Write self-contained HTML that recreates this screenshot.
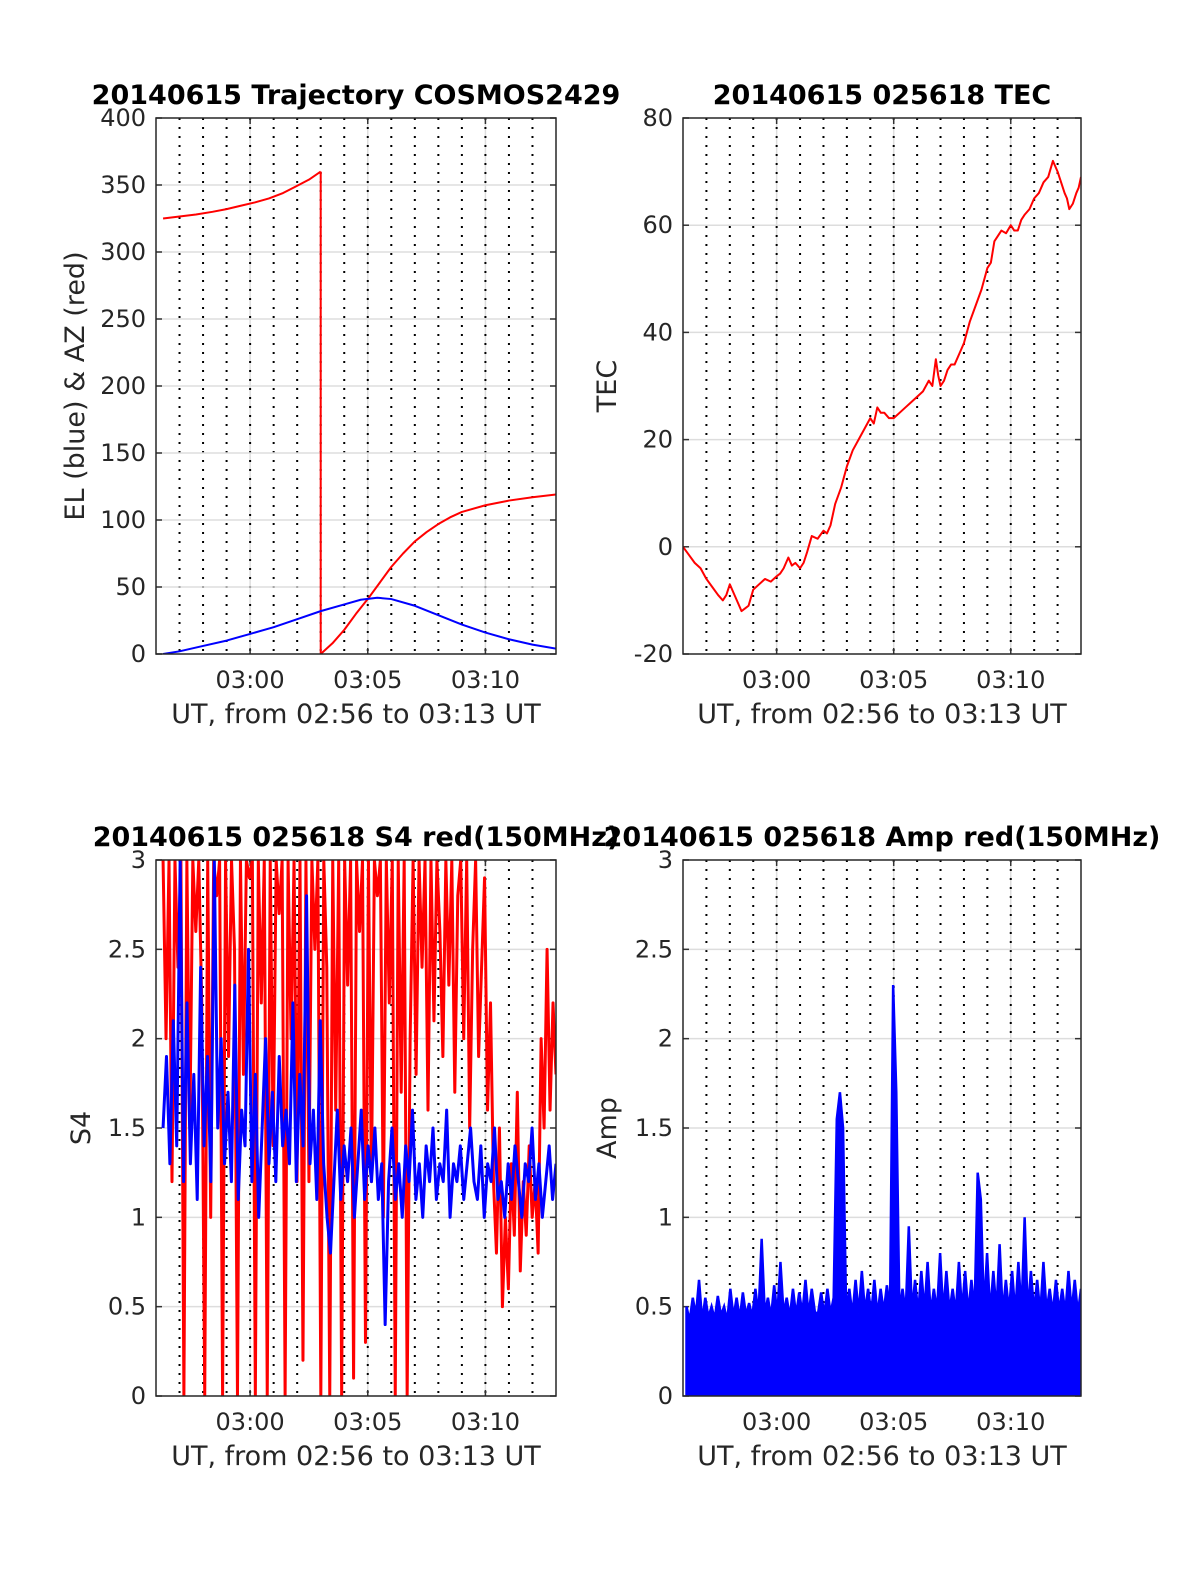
<!DOCTYPE html>
<html><head><meta charset="utf-8"><style>
html,body{margin:0;padding:0;background:#fff;}
svg text{font-family:"DejaVu Sans","Liberation Sans",sans-serif;}
</style></head><body>
<svg id="fig" width="1200" height="1575" viewBox="0 0 1200 1575" xmlns="http://www.w3.org/2000/svg"></svg>
<script>
// ---- data (time in minutes after 02:56) ----
const xTickMinutes=[4,9,14];
const xTickLabels=["03:00","03:05","03:10"];
const azBeforeT=[0.3,1,1.7,2.4,3,3.6,4.2,4.8,5.4,5.9,6.5,7];
const azBeforeV=[325,326.5,328,330,332,334.5,337,340,344,348.5,354,360];
const azAfterT=[7,7.5,8,8.5,9,9.5,10,10.5,11,11.5,12,12.5,13,14,15,16,17];
const azAfterV=[0,8,18,30,41,53,65,75,84,91,97,102,106,111,114.5,117,119];
const elT=[0.3,1,2,3,4,5,6,7,8,8.7,9.4,10,11,12,13,14,15,16,17];
const elV=[0,2,6,10,15,20,26,32,37,40.5,42,41,36,29,22,16,11,7,4];
const tecT=[0,0.25,0.5,0.75,1,1.25,1.5,1.7,1.85,2,2.15,2.3,2.5,2.65,2.8,3,3.25,3.5,3.75,4,4.15,4.3,4.5,4.65,4.8,5,5.15,5.3,5.5,5.75,6,6.15,6.3,6.5,6.75,7,7.25,7.5,7.75,8,8.15,8.3,8.45,8.6,8.8,9,9.25,9.5,9.75,10,10.25,10.5,10.65,10.8,10.9,11,11.15,11.3,11.45,11.6,11.8,12,12.25,12.5,12.75,13,13.15,13.3,13.45,13.6,13.8,14,14.15,14.3,14.45,14.6,14.8,15,15.2,15.4,15.6,15.8,15.9,16,16.15,16.3,16.4,16.5,16.65,16.8,16.9,17];
const tecV=[0,-1.5,-3,-4,-6,-7.5,-9,-10,-9,-7,-8.5,-10,-12,-11.5,-11,-8,-7,-6,-6.5,-5.5,-5,-4,-2,-3.5,-3,-4,-3,-1,2,1.5,3,2.5,4,8,11,15,18,20,22,24,23,26,25,25,24,24,25,26,27,28,29,31,30,35,32,30,31,33,34,34,36,38,42,45,48,52,53,57,58,59,58.5,60,59,59,61,62,63,65,66,68,69,72,71,70,68,66,65,63,64,66,67,69];
const s4Red=[3,2.0,3,1.2,3,2.4,3,0,3,1.5,3,2.6,3,2.2,0,3,1.0,3,2.8,3,0,3,1.9,3,2.5,0,3,1.8,3,2.9,3,0,3,2.2,3,0,3,1.4,3,2.7,3,0,3,2.0,3,1.2,3,0.2,3,1.2,3,2.5,3,0,3,2.4,0,3,1.6,3,0,3,2.3,3,0.1,3,2.6,3,0.3,3,1.2,3,2.8,3,1.0,3,2.2,3,0,3,1.7,3,0,2.0,3,1.8,3,2.4,3,1.6,3,2.1,3,2.6,1.9,3,2.3,3,1.7,2.8,3,2.0,3,1.5,2.5,3,1.9,2.4,2.9,1.6,2.2,1.2,0.8,1.5,0.5,1.0,0.6,1.3,0.9,1.7,0.7,1.2,0.9,1.4,1.0,1.2,0.8,2.0,1.5,2.5,1.6,2.2,1.8];
const s4Blue=[1.5,1.9,1.3,2.1,1.4,3,1.2,2.2,1.3,1.8,1.1,2.4,1.4,1.9,1.2,3,1.5,2.0,1.3,1.7,1.2,2.3,1.1,1.6,1.4,2.5,1.2,1.8,1.0,1.5,2.0,1.3,1.7,1.2,1.9,1.4,1.6,1.3,2.2,1.2,1.8,1.4,2.8,1.3,1.6,1.1,2.1,1.3,1.0,0.8,1.2,1.6,1.1,1.4,1.2,1.5,1.0,1.3,1.6,1.1,1.4,1.2,1.5,1.1,1.3,0.4,1.2,1.5,1.1,1.3,1.0,1.4,1.2,1.6,1.1,1.3,1.0,1.4,1.2,1.5,1.1,1.3,1.2,1.6,1.0,1.3,1.2,1.4,1.1,1.3,1.5,1.2,1.1,1.4,1.0,1.3,1.2,1.5,1.1,1.2,1.0,1.3,1.1,1.4,1.2,1.0,1.3,1.2,1.5,1.1,1.3,1.0,1.2,1.4,1.1,1.3];
const ampV=[0.5,0.42,0.55,0.45,0.65,0.42,0.55,0.44,0.5,0.43,0.56,0.45,0.5,0.42,0.6,0.44,0.55,0.43,0.58,0.45,0.52,0.44,0.6,0.45,0.88,0.46,0.55,0.44,0.62,0.45,0.75,0.46,0.55,0.44,0.6,0.45,0.58,0.46,0.65,0.45,0.6,0.47,0.46,0.58,0.45,0.6,0.46,0.55,1.55,1.7,1.5,0.46,0.6,0.45,0.65,0.46,0.7,0.47,0.6,0.46,0.65,0.45,0.6,0.47,0.62,0.48,2.3,1.7,0.47,0.6,0.46,0.95,0.47,0.65,0.46,0.7,0.47,0.75,0.46,0.6,0.47,0.8,0.46,0.7,0.47,0.6,0.46,0.75,0.47,0.7,0.46,0.65,0.47,1.25,1.1,0.47,0.8,0.46,0.7,0.47,0.85,0.46,0.65,0.47,0.7,0.46,0.75,0.47,1.0,0.46,0.7,0.47,0.65,0.46,0.75,0.47,0.6,0.46,0.65,0.47,0.6,0.46,0.7,0.47,0.65,0.46,0.6];

const NS="http://www.w3.org/2000/svg";
const svg=document.getElementById('fig');
function mk(tag,attrs,parent){const e=document.createElementNS(NS,tag);for(const k in attrs)e.setAttribute(k,attrs[k]);(parent||svg).appendChild(e);return e;}
function axes(o){
  const g=mk('g',{});
  
  
  const X=t=>o.x0+(o.x1-o.x0)*t/17, Y=v=>o.y1-(o.y1-o.y0)*(v-o.ymin)/(o.ymax-o.ymin);
  for(let m=1;m<17;m++){
    if(xTickMinutes.includes(m))continue;
    const l=mk('line',{x1:X(m),x2:X(m),y1:o.y0,y2:o.y1,stroke:'#000','stroke-width':2,'stroke-dasharray':'2,7'},g);
    
  }
  xTickMinutes.forEach((m,i)=>{
    mk('line',{x1:X(m),x2:X(m),y1:o.y0,y2:o.y1,stroke:'#ddd','stroke-width':1.5},g);
    mk('line',{x1:X(m),x2:X(m),y1:o.y0,y2:o.y1,stroke:'#000','stroke-width':2,'stroke-dasharray':'2,7'},g);
    mk('line',{x1:X(m),x2:X(m),y1:o.y1,y2:o.y1-6,stroke:'#333','stroke-width':1.5},g);
    mk('line',{x1:X(m),x2:X(m),y1:o.y0,y2:o.y0+6,stroke:'#333','stroke-width':1.5},g);
    const t=mk('text',{x:X(m),y:o.y1+34,'font-size':24,'text-anchor':'middle',fill:'#262626'},g);t.textContent=xTickLabels[i];
    
  });
  o.yticks.forEach(v=>{
    if(v!==o.ymin&&v!==o.ymax)mk('line',{x1:o.x0,x2:o.x1,y1:Y(v),y2:Y(v),stroke:'#ddd','stroke-width':1.5},g);
    mk('line',{x1:o.x0,x2:o.x0+6,y1:Y(v),y2:Y(v),stroke:'#333','stroke-width':1.5},g);
    mk('line',{x1:o.x1,x2:o.x1-6,y1:Y(v),y2:Y(v),stroke:'#333','stroke-width':1.5},g);
    const t=mk('text',{x:o.x0-10,y:Y(v)+8,'font-size':24,'text-anchor':'end',fill:'#262626'},g);t.textContent=String(v);
    
  });
  const cp='clip-'+o.name;const c=mk('clipPath',{id:cp},g);mk('rect',{x:o.x0,y:o.y0,width:o.x1-o.x0,height:o.y1-o.y0},c);
  const pg=mk('g',{'clip-path':'url(#'+cp+')'},g);
  o.draw(pg,X,Y);
  const b=mk('rect',{x:o.x0,y:o.y0,width:o.x1-o.x0,height:o.y1-o.y0,fill:'none',stroke:'#262626','stroke-width':1.5},g);
  
  const tt=mk('text',{x:o.tx,y:o.y0-14,'font-size':27,'font-weight':'bold','text-anchor':'middle',fill:'#000'},g);tt.textContent=o.title;
  
  const xl=mk('text',{x:(o.x0+o.x1)/2,y:o.y1+69,'font-size':27,'text-anchor':'middle',fill:'#262626'},g);xl.textContent='UT, from 02:56 to 03:13 UT';
  
  const yc=(o.y0+o.y1)/2;const yl=mk('text',{x:o.ylx,y:yc,'font-size':27,'text-anchor':'middle',fill:'#262626',transform:`rotate(-90 ${o.ylx} ${yc})`},g);yl.textContent=o.ylabel;
  
}
function line(pg,ts,vs,X,Y,col,w,name){
  const p=mk('polyline',{points:ts.map((t,i)=>X(t)+','+Y(vs[i])).join(' '),fill:'none',stroke:col,'stroke-width':w,'stroke-linejoin':'round'},pg);
  
}
function idxT(arr,a,b){return arr.map((v,i)=>a+(b-a)*i/(arr.length-1));}
axes({name:'trajectory-chart',x0:156,x1:556,y0:118,y1:654,ymin:0,ymax:400,yticks:[0,50,100,150,200,250,300,350,400],title:'20140615 Trajectory COSMOS2429',tx:356,ylabel:'EL (blue) & AZ (red)',ylx:84,
 draw:(pg,X,Y)=>{line(pg,azBeforeT,azBeforeV,X,Y,'#f00',2,'azimuth-line-before');
  line(pg,[azBeforeT[azBeforeT.length-1],azAfterT[0]],[azBeforeV[azBeforeV.length-1],azAfterV[0]],X,Y,'#f00',2,'azimuth-wrap');
  line(pg,azAfterT,azAfterV,X,Y,'#f00',2,'azimuth-line-after');line(pg,elT,elV,X,Y,'#00f',2,'elevation-line');}});
axes({name:'tec-chart',x0:683,x1:1081,y0:118,y1:654,ymin:-20,ymax:80,yticks:[-20,0,20,40,60,80],title:'20140615 025618 TEC',tx:882,ylabel:'TEC',ylx:616,
 draw:(pg,X,Y)=>line(pg,tecT,tecV,X,Y,'#f00',2,'tec-line')});
axes({name:'s4-chart',x0:156,x1:556,y0:860,y1:1396,ymin:0,ymax:3,yticks:[0,0.5,1,1.5,2,2.5,3],title:'20140615 025618 S4 red(150MHz)',tx:356,ylabel:'S4',ylx:90,
 draw:(pg,X,Y)=>{line(pg,idxT(s4Red,0.3,17),s4Red,X,Y,'#f00',3,'s4-red-line');line(pg,idxT(s4Blue,0.3,17),s4Blue,X,Y,'#00f',3,'s4-blue-line');}});
axes({name:'amp-chart',x0:683,x1:1081,y0:860,y1:1396,ymin:0,ymax:3,yticks:[0,0.5,1,1.5,2,2.5,3],title:'20140615 025618 Amp red(150MHz)',tx:882,ylabel:'Amp',ylx:616,
 draw:(pg,X,Y)=>{const ts=idxT(ampV,0.15,17);const pts=[X(ts[0])+','+Y(0)];ts.forEach((t,i)=>pts.push(X(t)+','+Y(ampV[i])));pts.push(X(ts[ts.length-1])+','+Y(0));
  const p=mk('polygon',{points:pts.join(' '),fill:'#00f',stroke:'#00f','stroke-width':2.5,'stroke-linejoin':'miter'},pg);
  }});
</script>
</body></html>
